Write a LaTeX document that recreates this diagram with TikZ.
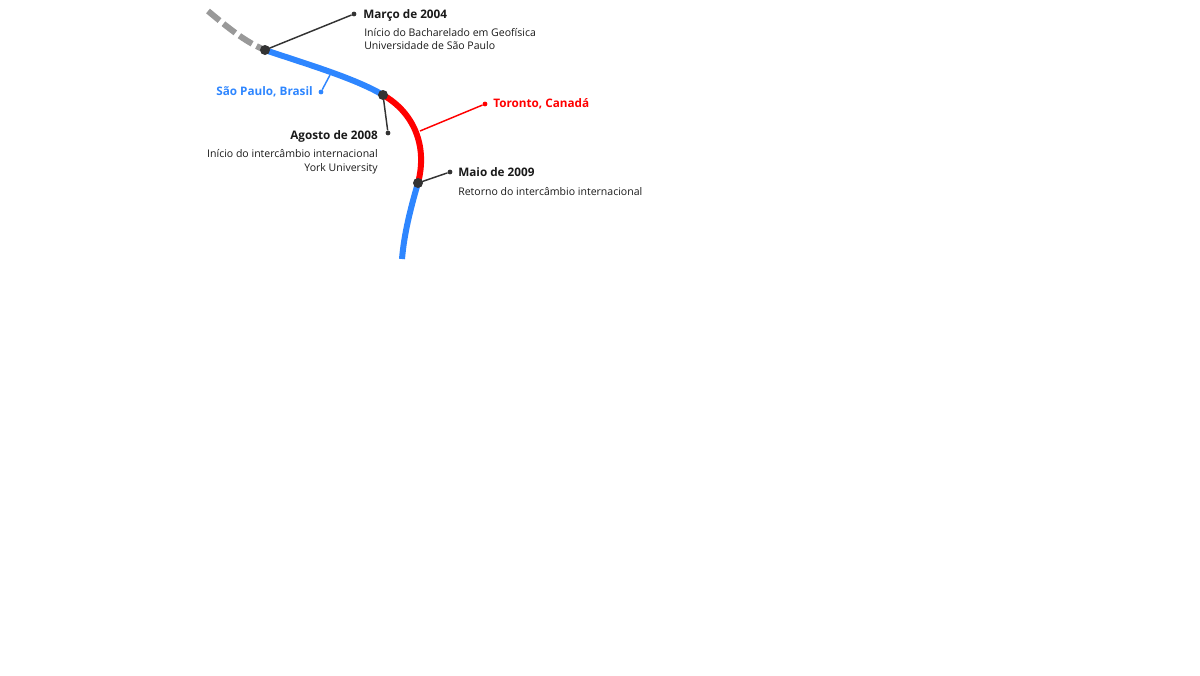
\documentclass[tikz,border=0pt]{standalone}
\usepackage{fontspec}
\setmainfont{Open Sans}
\definecolor{tlblue}{HTML}{2E86FF}
\definecolor{tlred}{HTML}{FF0000}
\definecolor{tlgray}{HTML}{999999}
\definecolor{tldark}{HTML}{333333}
\definecolor{tltext}{HTML}{1A1A1A}
\begin{document}
\begin{tikzpicture}[x=0.75pt,y=-0.75pt,
  trackline/.style={line width=4.5pt},
  bigdot/.style={circle,fill=tldark,inner sep=0pt,minimum size=7.5pt},
  smalldot/.style={circle,fill=tldark,inner sep=0pt,minimum size=3.6pt},
  leader/.style={draw=tldark,line width=1.1pt},
  title/.style={font=\bfseries\fontsize{8.8}{11}\selectfont,text=tltext,inner sep=0pt},
  desc/.style={font=\fontsize{7.9}{9.75}\selectfont,text=tltext,inner sep=0pt,align=left},
  descr/.style={font=\fontsize{7.9}{9.75}\selectfont,text=tltext,inner sep=0pt,align=right}]
\useasboundingbox (0,0) rectangle (1200,675);
% track
\coordinate (g0) at (208,11);
\coordinate (p1) at (265,50);
\coordinate (p2) at (383,95);
\coordinate (p3) at (418,183);
\coordinate (p4) at (402,259);
\draw[trackline,tlgray,dash pattern=on 11.25pt off 3.75pt] (g0) .. controls (226,26) and (245,42) .. (p1);
\draw[trackline,tlblue] (p1) .. controls (300,62) and (355,78) .. (p2);
\draw[trackline,tlred] (p2) .. controls (413,112) and (428,145) .. (p3);
\draw[trackline,tlblue] (p3) .. controls (410,210) and (404,235) .. (p4);
% location labels
\coordinate (spline) at (330,75);
\node[circle,fill=tlblue,inner sep=0pt,minimum size=3.6pt] (spdot) at (321,92) {};
\draw[draw=tlblue,line width=1.1pt] (spline) -- (spdot);
\node[title,text=tlblue,anchor=base east] (sp) at (313,95.7) {São Paulo, Brasil};
\coordinate (trline) at (420,131);
\node[circle,fill=tlred,inner sep=0pt,minimum size=3.6pt] (trdot) at (485,104) {};
\draw[draw=tlred,line width=1.1pt] (trline) -- (trdot);
\node[title,text=tlred,anchor=base west] (tr) at (493,107.3) {Toronto, Canadá};
% event 1
\node[smalldot] (e1dot) at (354,14) {};
\draw[leader] (p1) -- (e1dot);
\node[title,anchor=base west] (e1t) at (363,18.3) {Março de 2004};
\node[desc,anchor=base west] (e1a) at (364,36.7) {Início do Bacharelado em Geofísica};
\node[desc,anchor=base west] (e1b) at (364,49.3) {Universidade de São Paulo};
% event 2
\node[smalldot] (e2dot) at (388,133) {};
\draw[leader] (p2) -- (e2dot);
\node[title,anchor=base east] (e2t) at (378,139.3) {Agosto de 2008};
\node[descr,anchor=base east] (e2a) at (378,157.3) {Início do intercâmbio internacional};
\node[descr,anchor=base east] (e2b) at (378,171.3) {York University};
% event 3
\node[smalldot] (e3dot) at (450,172) {};
\draw[leader] (p3) -- (e3dot);
\node[title,anchor=base west] (e3t) at (458,176) {Maio de 2009};
\node[desc,anchor=base west] (e3a) at (458,195) {Retorno do intercâmbio internacional};
% dots
\node[bigdot] (d1) at (p1) {};
\node[bigdot] (d2) at (p2) {};
\node[bigdot] (d3) at (p3) {};
\end{tikzpicture}
\end{document}
